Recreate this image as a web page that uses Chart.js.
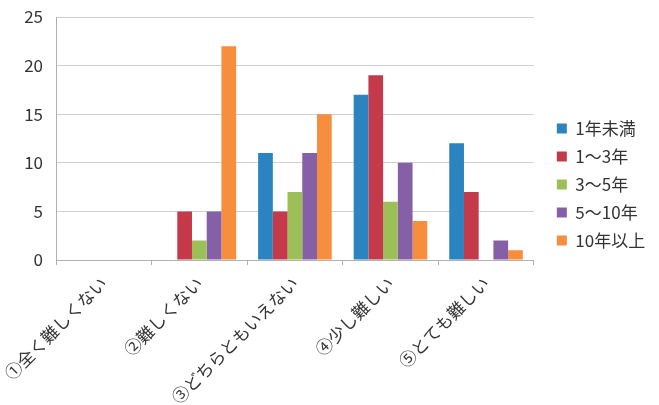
<!DOCTYPE html>
<html>
<head>
<meta charset="utf-8">
<script src="https://cdn.jsdelivr.net/npm/chart.js@4"></script>
<style>
  html, body { margin: 0; padding: 0; background: #fff; }
  #wrap { width: 659px; height: 405px; }
</style>
</head>
<body>
<div id="wrap"><canvas id="myChart" width="659" height="405"></canvas></div>
<script>
// 回答の選択肢
const categories = ['①全く難しくない', '②難しくない', '③どちらともいえない', '④少し難しい', '⑤とても難しい'];
// 経験年数ごとの人数
const seriesNames = ['1年未満', '1～3年', '3～5年', '5～10年', '10年以上'];
const lessThan1 = [0, 0, 11, 17, 12];
const from1to3 = [0, 5, 5, 19, 7];
const from3to5 = [0, 2, 7, 6, 0];
const from5to10 = [0, 5, 11, 10, 2];
const over10 = [0, 22, 15, 4, 1];
const yTicks = [0, 5, 10, 15, 20, 25];

const colors = ['#2b83bf', '#c53a4b', '#9cbf57', '#8660a6', '#f68e3d'];
const values = [lessThan1, from1to3, from3to5, from5to10, over10];

Chart.defaults.font.family = '"Noto Sans CJK JP", "Noto Sans", sans-serif';
Chart.defaults.color = '#333';

document.addEventListener('DOMContentLoaded', function() {
    const ctx = document.getElementById('myChart');

    new Chart(ctx, {
        type: 'bar',
        data: {
            labels: categories,
            datasets: seriesNames.map((name, i) => ({
                label: name,
                data: values[i],
                backgroundColor: colors[i],
                borderWidth: 0,
                categoryPercentage: 0.77,
                barPercentage: 1.0
            }))
        },
        options: {
            responsive: false,
            animation: false,
            layout: { padding: { top: 17, right: 4, left: 0, bottom: 0 } },
            plugins: {
                legend: {
                    position: 'right',
                    fullSize: false,
                    align: 'end',
                    labels: {
                        boxWidth: 10,
                        boxHeight: 10,
                        padding: 11,
                        font: { size: 17 },
                        color: '#333'
                    }
                },
                tooltip: { enabled: false }
            },
            scales: {
                x: {
                    grid: {
                        display: true,
                        drawOnChartArea: false,
                        tickLength: 5,
                        color: '#b0b0b0'
                    },
                    border: { color: '#b0b0b0' },
                    ticks: {
                        minRotation: 45,
                        maxRotation: 45,
                        padding: 8,
                        font: { size: 17 },
                        color: '#333'
                    },
                    afterFit: scale => {
                        scale.height = 145;
                        scale.paddingLeft = 0;
                        scale.paddingRight = 0;
                    }
                },
                y: {
                    min: 0,
                    max: 25,
                    afterBuildTicks: scale => {
                        scale.ticks = yTicks.map(v => ({ value: v }));
                    },
                    grid: {
                        color: '#d0d0d0',
                        drawTicks: false
                    },
                    border: { color: '#b0b0b0' },
                    ticks: {
                        padding: 13,
                        font: { size: 17 },
                        color: '#333'
                    },
                    afterFit: scale => {
                        scale.width = 56;
                        scale.paddingTop = 0;
                        scale.paddingBottom = 0;
                    }
                },
                // 凡例との間隔用の空き領域
                gap: {
                    type: 'linear',
                    position: 'right',
                    grid: { display: false, drawTicks: false },
                    border: { display: false },
                    ticks: { display: false },
                    afterFit: scale => {
                        scale.width = 12;
                        scale.paddingTop = 0;
                        scale.paddingBottom = 0;
                    }
                }
            }
        }
    });
});
</script>
</body>
</html>
